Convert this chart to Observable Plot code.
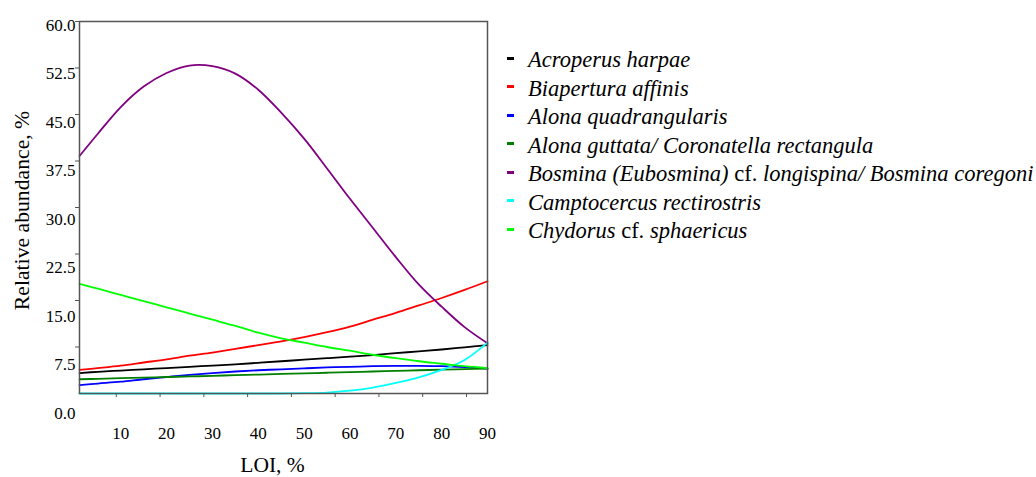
<!DOCTYPE html>
<html>
<head>
<meta charset="utf-8">
<script src="https://cdn.jsdelivr.net/npm/d3@7"></script>
<script src="https://cdn.jsdelivr.net/npm/@observablehq/plot@0.6"></script>
<style>
  html, body { margin: 0; padding: 0; background: #fff; }
  #wrap { position: relative; width: 1036px; height: 477px; overflow: hidden; font-family: "Liberation Serif", "Times New Roman", serif; }
  #wrap svg { position: absolute; left: 0; top: 0; }
  #legend { position: absolute; left: 507px; top: 46px; font-size: 22.5px; white-space: nowrap; color: #000; }
  .row { height: 28.5px; display: flex; align-items: center; }
  .sw { display: inline-block; width: 7px; height: 3px; margin-right: 14px; position: relative; top: -2px; }
  .it { font-style: italic; }
</style>
</head>
<body>
<div id="wrap"><div id="legend"></div></div>
<script>
// ---- data (LOI, % on x; relative abundance, % on y) ----
const LOI = [1, 5, 10, 15, 20, 25, 30, 35, 40, 45, 50, 55, 60, 65, 70, 75, 80, 85, 90];

const acroperus    = [3.3, 3.5, 3.7, 3.9, 4.1, 4.3, 4.5, 4.7, 4.95, 5.2, 5.45, 5.7, 5.95, 6.2, 6.5, 6.8, 7.1, 7.45, 7.8];
const biapertura   = [3.8, 4.1, 4.5, 5.0, 5.5, 6.1, 6.6, 7.2, 7.8, 8.4, 9.1, 9.9, 10.8, 11.9, 13.0, 14.2, 15.4, 16.7, 18.1];
const alonaQuad    = [1.35, 1.6, 1.9, 2.3, 2.65, 3.0, 3.3, 3.55, 3.75, 3.9, 4.05, 4.2, 4.3, 4.4, 4.45, 4.45, 4.4, 4.25, 4.0];
const alonaGuttata = [2.3, 2.37, 2.47, 2.56, 2.66, 2.75, 2.85, 2.95, 3.05, 3.15, 3.25, 3.35, 3.45, 3.55, 3.65, 3.75, 3.85, 3.93, 4.0];
const bosmina      = [38.3, 41.9, 46.2, 49.5, 51.7, 52.9, 52.8, 51.6, 49.0, 45.3, 41.1, 36.3, 31.4, 26.7, 22.0, 17.6, 14.0, 10.7, 8.1];
const camptocercus = [0, 0, 0, 0, 0, 0, 0, 0, 0, 0, 0.05, 0.15, 0.45, 0.95, 1.7, 2.6, 3.8, 5.4, 8.2];
const chydorus     = [17.7, 16.9, 15.9, 14.9, 13.9, 12.9, 11.9, 10.9, 9.8, 8.9, 8.2, 7.5, 6.9, 6.25, 5.7, 5.2, 4.8, 4.4, 4.1];

const names = [
  "Acroperus harpae",
  "Biapertura affinis",
  "Alona quadrangularis",
  "Alona guttata/ Coronatella rectangula",
  "Bosmina (Eubosmina) cf. longispina/ Bosmina coregoni",
  "Camptocercus rectirostris",
  "Chydorus cf. sphaericus"
];
const colors = ["#000000", "#ff0000", "#0000ff", "#008000", "#800080", "#00ffff", "#00ff00"];
const seriesValues = [acroperus, biapertura, alonaQuad, alonaGuttata, bosmina, camptocercus, chydorus];

const xTickValues = [10, 20, 30, 40, 50, 60, 70, 80, 90];
const yTickValues = [0, 7.5, 15, 22.5, 30, 37.5, 45, 52.5, 60];

const rows = names.flatMap((name, s) => LOI.map((x, i) => ({loi: x, value: seriesValues[s][i], name})));

const W = 500, H = 477;
const font = {fontFamily: "'Liberation Serif', 'Times New Roman', serif", fontSize: "17px", background: "transparent", color: "#000"};

// main chart: curves, frame, y tick marks, x tick labels, titles
const main = Plot.plot({
  width: W, height: H,
  marginLeft: 79, marginRight: 13, marginTop: 21, marginBottom: 84,
  x: {domain: [1, 90]},
  y: {domain: [0, 60]},
  color: {domain: names, range: colors},
  style: font,
  marks: [
    Plot.line(rows, {x: "loi", y: "value", z: "name", stroke: "name", curve: "catmull-rom", strokeWidth: 1.8}),
    Plot.frame({stroke: "#555", strokeWidth: 1.5}),
    Plot.axisY(yTickValues.filter(d => d > 0), {tickSize: 4, tickFormat: () => "", label: null, stroke: "#555"}),
    Plot.axisX(xTickValues, {tickSize: 0, tickPadding: 33, label: null, fontSize: 17}),
    Plot.text(["LOI, %"], {text: d => d, frameAnchor: "bottom", textAnchor: "middle", dy: 78, dx: -11, fontSize: 21.5}),
    Plot.text(["Relative abundance, %"], {text: d => d, frameAnchor: "left", textAnchor: "middle", rotate: -90, dx: -57, dy: 3, fontSize: 21.7})
  ]
});

// x tick marks (placed on their own scale as in the original figure)
const xTicks = Plot.plot({
  width: W, height: H,
  marginLeft: 72, marginRight: 34, marginTop: 21, marginBottom: 84,
  x: {domain: [0, 90]},
  y: {domain: [0, 60], axis: null},
  style: font,
  marks: [
    Plot.axisX(xTickValues, {tickSize: 4, tickFormat: () => "", label: null, stroke: "#555"})
  ]
});

// y tick labels (placed on their own scale as in the original figure)
const yLabels = Plot.plot({
  width: W, height: H,
  marginLeft: 79, marginRight: 13, marginTop: 25, marginBottom: 64,
  x: {domain: [1, 90], axis: null},
  y: {domain: [0, 60]},
  style: font,
  marks: [
    Plot.axisY(yTickValues, {tickSize: 0, tickPadding: 4, tickFormat: d3.format(".1f"), label: null, fontSize: 17})
  ]
});

const wrap = document.getElementById("wrap");
wrap.insertBefore(yLabels, wrap.firstChild);
wrap.insertBefore(xTicks, wrap.firstChild);
wrap.insertBefore(main, wrap.firstChild);

// legend
const legend = d3.select("#legend");
names.forEach((name, i) => {
  const row = legend.append("div").attr("class", "row");
  row.append("span").attr("class", "sw").style("background", colors[i]);
  const label = row.append("span");
  name.split(/( cf\. )/).forEach(part => {
    if (part === " cf. ") label.append("span").html("&nbsp;cf.&nbsp;");
    else label.append("span").attr("class", "it").text(part);
  });
});
</script>
</body>
</html>
